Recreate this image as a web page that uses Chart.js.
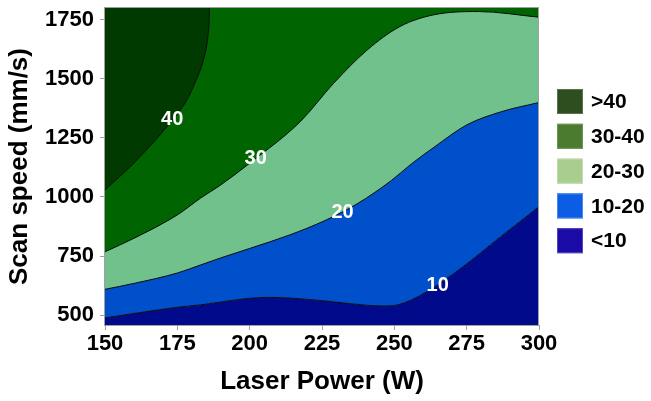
<!DOCTYPE html>
<html><head><meta charset="utf-8">
<script src="https://cdn.jsdelivr.net/npm/chart.js@4/dist/chart.umd.min.js"></script>
<style>html,body{margin:0;padding:0;background:#fff;}</style>
</head><body>
<canvas id="c" width="651" height="401"></canvas>
<script>
// ---- data ----
const xTicks = [150, 175, 200, 225, 250, 275, 300];
const yTicks = [500, 750, 1000, 1250, 1500, 1750];

// contour 10 boundary (laser power W, scan speed mm/s)
const b10Power = [150, 175, 183, 200, 207, 217.5, 229, 240, 246, 251, 256, 261.4, 273, 286.8, 300];
const b10Speed = [488, 533, 543, 571, 575, 569, 556, 542, 538, 543, 565, 600, 698, 832, 959];
// contour 20 boundary
const b20Power = [150, 160, 175, 183, 190, 200, 214, 226, 237, 249, 256, 264, 275, 287, 300];
const b20Speed = [609, 634, 678, 712, 742, 782, 840, 900, 970, 1070, 1141, 1213, 1305, 1361, 1400];
// contour 30 boundary
const b30Power = [150, 160, 175, 183, 190, 200, 217.5, 229, 240.7, 252, 263.6, 279, 300];
const b30Speed = [768, 825, 924, 995, 1051, 1143, 1319, 1481, 1623, 1722, 1771, 1785, 1761];
// contour 40 boundary
const b40Power = [150, 160, 171.4, 178.3, 181, 184, 185.4, 186, 186.1];
const b40Speed = [1030, 1144, 1298, 1411, 1481, 1580, 1665, 1750, 1800];

const levelNames = ['>40', '30-40', '20-30', '10-20', '<10'];
const contourText = ['40', '30', '20', '10'];
const contourTextPower = [173.2, 202.1, 232.1, 265];
const contourTextSpeed = [1330, 1161, 936, 627];

// ---- styles ----
const FONT = "'Liberation Sans', Arial, sans-serif";
const fillColors = ['#003a00', '#006400', '#70c18b', '#0050cb', '#000a8a'];
const legendColors = ['#2f4e20', '#4a7b2f', '#a8cd8f', '#0b5de6', '#1a0aa6'];
const legendEdge = ['#5a7350', '#6f9658', '#c2dcb0', '#4a88ee', '#5546c0'];

const pts = (px, sy) => px.map((p, i) => ({x: p, y: sy[i]}));
const lineStyle = {borderColor: '#0a0a0a', borderWidth: 1, pointRadius: 0, cubicInterpolationMode: 'monotone'};

const overlay = {
  id: 'overlay',
  afterDatasetsDraw(chart) {
    const {ctx, chartArea: a, scales: {x, y}} = chart;
    ctx.save();
    ctx.fillStyle = '#ffffff';
    ctx.font = "bold 20px " + FONT;
    ctx.textAlign = 'center';
    ctx.textBaseline = 'middle';
    contourText.forEach((t, i) => {
      ctx.fillText(t, x.getPixelForValue(contourTextPower[i]), y.getPixelForValue(contourTextSpeed[i]));
    });
    ctx.strokeStyle = '#a0a0a0';
    ctx.lineWidth = 1;
    ctx.strokeRect(Math.round(a.left) - 0.5, Math.round(a.top) - 0.5, Math.round(a.right - a.left), Math.round(a.bottom - a.top) + 1);
    ctx.restore();
  },
  afterDraw(chart) {
    const ctx = chart.ctx;
    ctx.save();
    const x0 = 557, w = 26, h = 25, y0 = 101.5, pitch = 34.8;
    levelNames.forEach((name, i) => {
      const cy = y0 + i * pitch;
      ctx.fillStyle = legendColors[i];
      ctx.fillRect(x0, cy - h / 2, w, h);
      ctx.strokeStyle = legendEdge[i];
      ctx.lineWidth = 1;
      ctx.strokeRect(x0 + 0.5, cy - h / 2 + 0.5, w - 1, h - 1);
      ctx.fillStyle = '#000';
      ctx.font = "bold 21px " + FONT;
      ctx.textAlign = 'left';
      ctx.textBaseline = 'middle';
      ctx.fillText(name, 591, cy + 1);
    });
    ctx.restore();
  }
};

new Chart(document.getElementById('c'), {
  type: 'line',
  data: {
    datasets: [
      Object.assign({data: pts(b40Power, b40Speed), fill: 'end', backgroundColor: fillColors[0], order: 1}, lineStyle),
      Object.assign({data: pts(b30Power, b30Speed), fill: 'end', backgroundColor: fillColors[1], order: 2}, lineStyle),
      Object.assign({data: pts(b20Power, b20Speed), fill: 'end', backgroundColor: fillColors[2], order: 3}, lineStyle),
      Object.assign({data: pts(b10Power, b10Speed), fill: 'end', backgroundColor: fillColors[3], order: 4}, lineStyle),
      Object.assign({}, lineStyle, {data: pts(b10Power, b10Speed), fill: 'start', backgroundColor: fillColors[4], borderWidth: 0, order: 5})
    ]
  },
  options: {
    responsive: false,
    animation: false,
    devicePixelRatio: 1,
    layout: {padding: {left: 0, right: 112, top: 8, bottom: 0}},
    plugins: {legend: {display: false}, tooltip: {enabled: false}},
    scales: {
      x: {
        type: 'linear', min: 150, max: 300,
        afterBuildTicks: s => { s.ticks = xTicks.map(v => ({value: v})); },
        afterFit: s => { s.height = 76; s.paddingLeft = 0; s.paddingRight = 0; },
        grid: {drawOnChartArea: false, drawTicks: true, tickLength: 5, color: '#a0a0a0'},
        border: {display: true, color: '#a0a0a0'},
        ticks: {color: '#000', padding: 1, maxRotation: 0, callback: v => String(v),
                font: {family: FONT, size: 22, weight: 'bold'}},
        title: {display: true, text: 'Laser Power (W)', color: '#000', padding: {top: 4, bottom: 4},
                font: {family: FONT, size: 26, weight: 'bold'}}
      },
      y: {
        type: 'linear', min: 458, max: 1800,
        afterBuildTicks: s => { s.ticks = yTicks.map(v => ({value: v})); },
        afterFit: s => { s.width = 105; s.paddingTop = 0; s.paddingBottom = 0; },
        grid: {drawOnChartArea: false, drawTicks: true, tickLength: 5, color: '#a0a0a0'},
        border: {display: true, color: '#a0a0a0'},
        ticks: {color: '#000', padding: 6, callback: v => String(v),
                font: {family: FONT, size: 22, weight: 'bold'}},
        title: {display: true, text: 'Scan speed (mm/s)', color: '#000', padding: {top: 4, bottom: 4},
                font: {family: FONT, size: 26, weight: 'bold'}}
      }
    }
  },
  plugins: [overlay]
});
</script>
</body></html>
